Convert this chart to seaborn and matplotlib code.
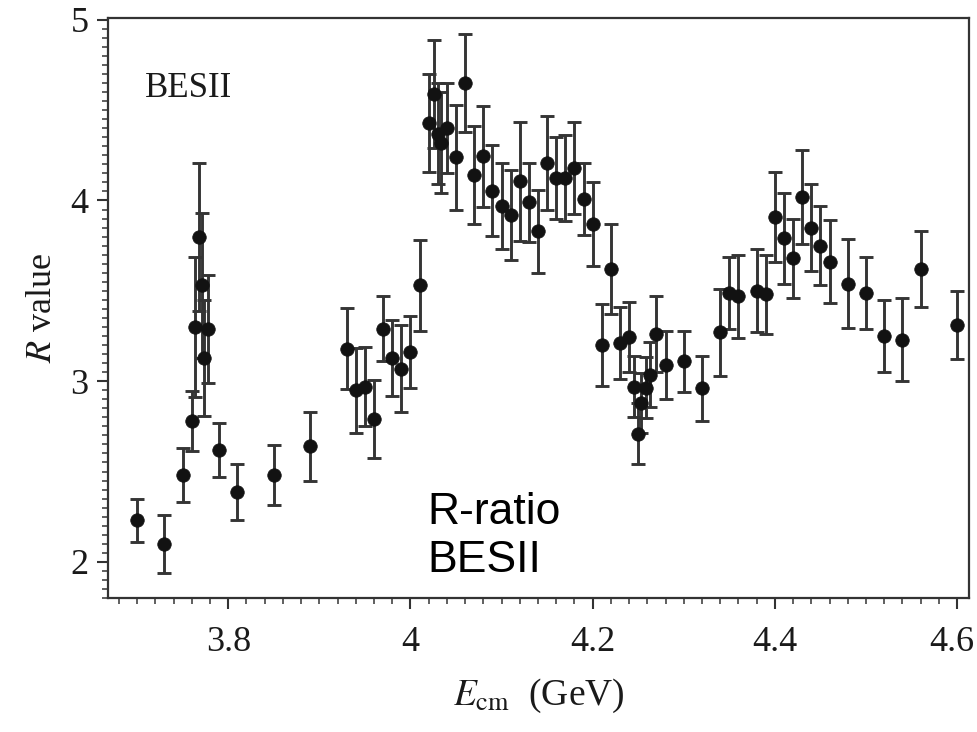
import matplotlib
matplotlib.use("Agg")
import matplotlib.pyplot as plt
import matplotlib.transforms as mtransforms
import seaborn as sns
import pandas as pd
from matplotlib.ticker import MultipleLocator, FixedLocator

energy = [3.70, 3.73, 3.75, 3.76, 3.764, 3.768, 3.771, 3.773, 3.778, 3.79, 3.81, 3.85,
          3.89, 3.93, 3.94, 3.95, 3.96, 3.97, 3.98, 3.99, 4.00, 4.01, 4.02, 4.026,
          4.030, 4.033, 4.04, 4.05, 4.06, 4.07, 4.08, 4.09, 4.10, 4.11, 4.12, 4.13,
          4.14, 4.15, 4.16, 4.17, 4.18, 4.19, 4.20, 4.21, 4.22, 4.23, 4.24, 4.245,
          4.2495, 4.2535, 4.258, 4.263, 4.27, 4.28, 4.30, 4.32, 4.34, 4.35, 4.36,
          4.38, 4.39, 4.40, 4.41, 4.42, 4.43, 4.44, 4.45, 4.46, 4.48, 4.50, 4.52,
          4.54, 4.56, 4.60]
r_value = [2.23, 2.10, 2.48, 2.78, 3.30, 3.80, 3.53, 3.13, 3.29, 2.62, 2.385, 2.48,
           2.64, 3.18, 2.95, 2.97, 2.79, 3.29, 3.13, 3.07, 3.16, 3.53, 4.43, 4.59,
           4.37, 4.32, 4.40, 4.24, 4.65, 4.14, 4.245, 4.055, 3.97, 3.92, 4.107, 3.99,
           3.83, 4.21, 4.125, 4.125, 4.18, 4.01, 3.87, 3.20, 3.62, 3.21, 3.245, 2.97,
           2.71, 2.88, 2.965, 3.035, 3.26, 3.09, 3.11, 2.96, 3.27, 3.49, 3.47,
           3.50, 3.48, 3.91, 3.79, 3.68, 4.02, 3.85, 3.75, 3.66, 3.54, 3.49, 3.25,
           3.23, 3.62, 3.31]
r_error = [0.12, 0.16, 0.15, 0.165, 0.39, 0.41, 0.40, 0.32, 0.30, 0.15, 0.155, 0.165,
           0.19, 0.225, 0.235, 0.22, 0.215, 0.18, 0.21, 0.24, 0.20, 0.25, 0.27, 0.30,
           0.28, 0.28, 0.25, 0.29, 0.27, 0.27, 0.28, 0.25, 0.24, 0.25, 0.33, 0.22,
           0.23, 0.26, 0.225, 0.24, 0.255, 0.20, 0.23, 0.225, 0.25, 0.20, 0.195, 0.17,
           0.17, 0.165, 0.17, 0.18, 0.21, 0.19, 0.17, 0.18, 0.24, 0.20, 0.23,
           0.23, 0.22, 0.25, 0.25, 0.22, 0.26, 0.24, 0.22, 0.23, 0.245, 0.20, 0.20,
           0.23, 0.21, 0.19]

x_ticks = [3.8, 4.0, 4.2, 4.4, 4.6]
x_tick_labels = ["3.8", "4", "4.2", "4.4", "4.6"]
y_ticks = [2, 3, 4, 5]
y_tick_labels = ["2", "3", "4", "5"]

df = pd.DataFrame({"E": energy, "R": r_value, "err": r_error})

sns.set_theme(style="white")
plt.rcParams["font.family"] = ["Liberation Serif", "DejaVu Serif"]
plt.rcParams["mathtext.fontset"] = "stix"

fig = plt.figure(figsize=(9.77, 7.32), dpi=100)
ax = fig.add_axes([108 / 977, 1 - 598 / 732, (969 - 108) / 977, (598 - 18) / 732])

ax.errorbar(df["E"], df["R"], yerr=df["err"], fmt="none", ecolor="#353535",
            elinewidth=2.1, capsize=5, capthick=2.1, zorder=2)
sns.scatterplot(data=df, x="E", y="R", ax=ax, color="#121212", s=95,
                edgecolor="#121212", linewidth=0.5, zorder=3, legend=False)

ax.set_xlim(3.668, 4.613)
ax.set_ylim(1.80, 5.01)

ax.set_xticks(x_ticks)
ax.set_xticklabels(x_tick_labels)
ax.xaxis.set_minor_locator(FixedLocator([3.68 + 0.02 * i for i in range(47)]))
ax.set_yticks(y_ticks)
ax.set_yticklabels(y_tick_labels)
ax.yaxis.set_minor_locator(MultipleLocator(0.05))

ax.tick_params(axis="both", which="major", direction="out", length=8, width=1.5,
               color="#333333", labelsize=26, labelcolor="#1a1a1a")
ax.tick_params(axis="x", which="major", pad=12)
ax.tick_params(axis="y", which="major", pad=6)
ax.tick_params(axis="both", which="minor", direction="out", length=4, width=1.2,
               color="#444444")
ax.tick_params(bottom=True, left=True, top=False, right=False, which="both")

# keep the last x tick label inside the canvas
last = ax.get_xticklabels()[-1]
last.set_transform(last.get_transform() +
                   mtransforms.ScaledTranslation(-5 / 100, 0, fig.dpi_scale_trans))

for s in ax.spines.values():
    s.set_color("#333333")
    s.set_linewidth(1.6)

ax.set_xlabel(r"$E_{\mathrm{cm}}$  (GeV)", fontsize=27, color="#1a1a1a", labelpad=13)
ax.set_ylabel(r"$R$ value", fontsize=26, color="#1a1a1a", labelpad=8)

ax.text(3.709, 4.573, "BESII", fontsize=25, color="#1a1a1a", va="baseline", ha="left")

fig.text(427 / 977, 1 - 572 / 732, "R-ratio\nBESII", fontsize=32,
         family=["Liberation Sans", "DejaVu Sans"], color="black",
         va="baseline", ha="left", linespacing=1.22)

fig.savefig("out.png", dpi=100, facecolor="white")
